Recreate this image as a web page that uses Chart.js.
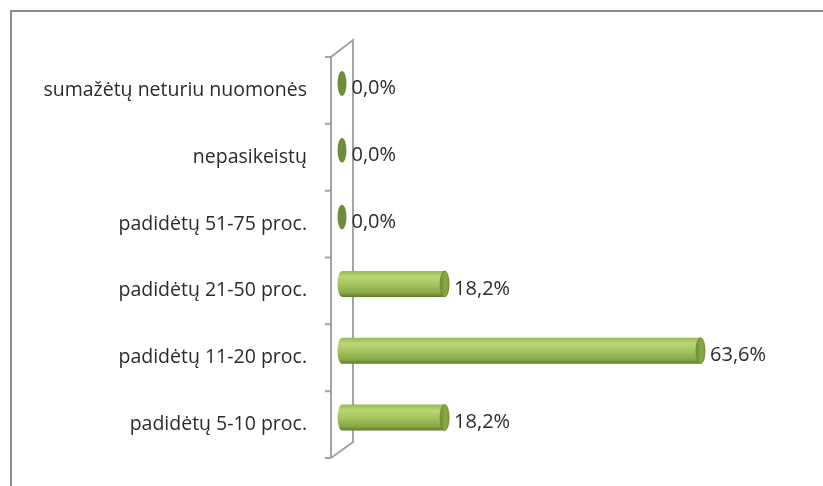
<!DOCTYPE html>
<html>
<head>
<meta charset="utf-8">
<script src="https://cdn.jsdelivr.net/npm/chart.js@4/dist/chart.umd.min.js"></script>
<style>
  body { margin: 0; background: #fff; }
</style>
</head>
<body>
<canvas id="chart" width="823" height="486"></canvas>
<script>
const categories = [
  "sumažėtų neturiu nuomonės",
  "nepasikeistų",
  "padidėtų 51-75 proc.",
  "padidėtų 21-50 proc.",
  "padidėtų 11-20 proc.",
  "padidėtų 5-10 proc."
];
const values = [0, 0, 0, 18.2, 63.6, 18.2];

const FONT = "'Open Sans', 'DejaVu Sans', sans-serif";
const TEXT = "#2b2b2b";

// frame lines at top and left of the picture
const framePlugin = {
  id: "frame",
  beforeDraw(chart) {
    const ctx = chart.ctx;
    ctx.save();
    ctx.strokeStyle = "#8c8c8c";
    ctx.lineWidth = 2;
    ctx.beginPath();
    ctx.moveTo(11, chart.height);
    ctx.lineTo(11, 11);
    ctx.lineTo(chart.width, 11);
    ctx.stroke();
    ctx.restore();
  }
};

// 3D wall behind the bars
const wallPlugin = {
  id: "wall",
  beforeDatasetsDraw(chart) {
    const ctx = chart.ctx;
    const { left, top, bottom } = chart.chartArea;
    const front = left - 11, back = left + 11;
    const n = categories.length;
    const band = (bottom - top) / n;
    ctx.save();
    ctx.strokeStyle = "#a3a3a3";
    ctx.lineWidth = 2;
    ctx.beginPath();
    ctx.moveTo(front, bottom + 7);
    ctx.lineTo(front, top + 7);
    ctx.lineTo(back, top - 10);
    ctx.lineTo(back, bottom - 9);
    ctx.lineTo(front, bottom + 7);
    for (let i = 0; i <= n; i++) {
      const y = top + 7 + i * band;
      ctx.moveTo(front - 6, y);
      ctx.lineTo(front, y);
    }
    ctx.stroke();
    ctx.restore();
  }
};

// cylinder bars and value labels
const cylinderPlugin = {
  id: "cylinder",
  afterDatasetsDraw(chart) {
    const ctx = chart.ctx;
    const meta = chart.getDatasetMeta(0);
    const rx = 4.5;
    ctx.save();
    meta.data.forEach((el, i) => {
      const p = el.getProps(["x", "y", "base", "height"], true);
      const h = p.height, ry = h / 2;
      const top = p.y - ry, bot = p.y + ry;
      if (p.x - p.base > 0.5) {
        const g = ctx.createLinearGradient(0, top, 0, bot);
        g.addColorStop(0, "#97b853");
        g.addColorStop(0.22, "#b8d774");
        g.addColorStop(0.55, "#a3c25e");
        g.addColorStop(0.85, "#86a544");
        g.addColorStop(1, "#5f7d2b");
        ctx.beginPath();
        ctx.ellipse(p.base, p.y, rx, ry, 0, Math.PI / 2, Math.PI * 1.5);
        ctx.lineTo(p.x, top);
        ctx.ellipse(p.x, p.y, rx, ry, 0, -Math.PI / 2, Math.PI / 2);
        ctx.closePath();
        ctx.fillStyle = g;
        ctx.fill();
        const cg = ctx.createLinearGradient(p.x - rx, 0, p.x + rx, 0);
        cg.addColorStop(0, "#6f8f34");
        cg.addColorStop(0.6, "#8aa948");
        cg.addColorStop(1, "#7c9b3c");
        ctx.beginPath();
        ctx.ellipse(p.x, p.y, rx, ry, 0, 0, Math.PI * 2);
        ctx.fillStyle = cg;
        ctx.fill();
        ctx.strokeStyle = "#6a8a30";
        ctx.lineWidth = 0.8;
        ctx.stroke();
      } else {
        ctx.beginPath();
        ctx.ellipse(p.x, p.y, rx, ry * 0.95, 0, 0, Math.PI * 2);
        ctx.fillStyle = "#6e8c39";
        ctx.fill();
      }
      const txt = values[i].toFixed(1).replace(".", ",") + "%";
      ctx.fillStyle = TEXT;
      ctx.font = "20px " + FONT;
      ctx.textAlign = "left";
      ctx.textBaseline = "middle";
      ctx.fillText(txt, p.x + rx + 5, p.y + 5);
    });
    ctx.restore();
  }
};

new Chart(document.getElementById("chart").getContext("2d"), {
  type: "bar",
  data: {
    labels: categories,
    datasets: [{
      data: values,
      backgroundColor: "rgba(0,0,0,0)",
      borderWidth: 0,
      barThickness: 26
    }]
  },
  options: {
    indexAxis: "y",
    responsive: false,
    animation: false,
    layout: { padding: { left: 0, top: 50, right: 30, bottom: 35 } },
    plugins: {
      legend: { display: false },
      tooltip: { enabled: false }
    },
    scales: {
      x: { display: false, min: 0, max: 80 },
      y: {
        grid: { display: false, drawTicks: false },
        border: { display: false },
        afterFit(scale) {
          scale.width = 342;
          scale.paddingTop = 0;
          scale.paddingBottom = 0;
        },
        ticks: {
          padding: 35,
          labelOffset: 7,
          color: TEXT,
          font: { family: FONT, size: 19.5 }
        }
      }
    }
  },
  plugins: [framePlugin, wallPlugin, cylinderPlugin]
});
</script>
</body>
</html>
